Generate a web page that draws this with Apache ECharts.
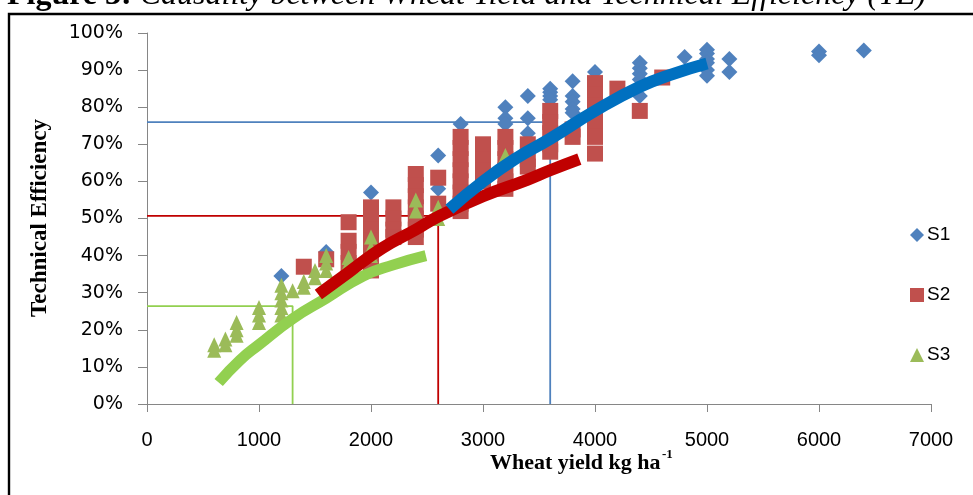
<!DOCTYPE html>
<html>
<head>
<meta charset="utf-8">
<script src="https://cdn.jsdelivr.net/npm/echarts@6/dist/echarts.min.js"></script>
<style>
html,body{margin:0;padding:0;background:#fff;}
#chart{width:973px;height:495px;}
</style>
</head>
<body>
<div id="chart"></div>
<script>
// ---- Data (x: wheat yield kg/ha, y: technical efficiency %) ----
const seriesNames = ['S1', 'S2', 'S3'];
const xTickValues = [0, 1000, 2000, 3000, 4000, 5000, 6000, 7000];
const yTickValues = [0, 10, 20, 30, 40, 50, 60, 70, 80, 90, 100];

const s1Points = [
  [1200, 34.5], [1600, 41], [2000, 57], [2600, 67], [2600, 58], [2800, 75.5],
  [3000, 67.5], [3000, 66], [3200, 80], [3200, 77], [3200, 75.5],
  [3400, 83], [3400, 77], [3400, 73],
  [3600, 85], [3600, 84], [3600, 83], [3600, 82], [3600, 76.5],
  [3800, 87], [3800, 83], [3800, 81.5], [3800, 79.5], [3800, 78.5],
  [4000, 89.5], [4000, 78], [4400, 92], [4400, 90.5], [4400, 89], [4400, 87.5], [4400, 83],
  [4800, 93.5], [5000, 95.5], [5000, 94.5], [5000, 93], [5000, 92], [5000, 90], [5000, 88.5],
  [5200, 93], [5200, 89.5], [6000, 95], [6000, 94], [6400, 95.3]
];
const s2Points = [
  [1400, 37], [1600, 39], [1800, 49], [1800, 44], [1800, 41], [1800, 38],
  [2000, 53], [2000, 50], [2000, 47], [2000, 44], [2000, 41], [2000, 38], [2000, 36],
  [2200, 53], [2200, 50], [2200, 47], [2200, 45],
  [2400, 62], [2400, 59], [2400, 56], [2400, 53], [2400, 50], [2400, 47], [2400, 45],
  [2600, 61], [2600, 54],
  [2800, 72], [2800, 69], [2800, 66], [2800, 63], [2800, 60], [2800, 57], [2800, 54], [2800, 52],
  [3000, 70], [3000, 66], [3000, 63], [3000, 60],
  [3200, 72], [3200, 69], [3200, 66], [3200, 63], [3200, 60], [3200, 58],
  [3400, 70], [3400, 66], [3400, 64],
  [3600, 79], [3600, 76], [3600, 73], [3600, 70], [3600, 68],
  [3800, 74], [3800, 72],
  [4000, 86.5], [4000, 83.5], [4000, 80.5], [4000, 77.5], [4000, 74.5], [4000, 72], [4000, 67.5],
  [4200, 85], [4400, 79], [4600, 88]
];
const s3Points = [
  [600, 16], [600, 14.5], [700, 17.5], [700, 16], [800, 22], [800, 20], [800, 18.5],
  [1000, 26], [1000, 24], [1000, 22],
  [1200, 32], [1200, 30], [1200, 28], [1200, 26], [1200, 24],
  [1300, 30.5], [1400, 33], [1400, 31.5], [1500, 36], [1500, 34],
  [1600, 40], [1600, 38], [1600, 36], [1800, 39.5], [1800, 38],
  [2000, 45], [2000, 42], [2000, 40], [2400, 55], [2400, 52], [2600, 53], [2600, 50], [3200, 67]
];

// Trend curves
const trendS1 = [[2700, 52.5], [3000, 60], [3300, 66.3], [3600, 71.5], [4000, 79], [4400, 85.5], [4700, 89], [5000, 91.8]];
const trendS2 = [[1530, 29.5], [1800, 35.5], [2100, 42], [2400, 47], [2600, 50.5], [3000, 56], [3400, 60.5], [3600, 63], [3860, 66]];
const trendS3 = [[640, 5.8], [830, 11.8], [1000, 16], [1300, 23], [1600, 28.5], [1930, 34.5], [2200, 37.5], [2490, 40]];

// Reference (read-off) lines: [yield, TE]
const refS1 = [[0, 76], [3600, 76], [3600, 0]];
const refS2 = [[0, 50.7], [2600, 50.7], [2600, 0]];
const refS3 = [[0, 26.4], [1300, 26.4], [1300, 0]];

const C1 = '#4F81BD', C2 = '#C0504D', C3 = '#9BBB59';

const chart = echarts.init(document.getElementById('chart'), null, {renderer: 'canvas'});

function refLine(name, data, color) {
  return {name: name, type: 'line', data: data, showSymbol: false, symbol: 'none',
    lineStyle: {color: color, width: 1.8}, z: 3, silent: true, animation: false};
}
function trend(name, data, color, w, z) {
  return {name: name, type: 'line', data: data, showSymbol: false, symbol: 'none', smooth: true,
    lineStyle: {color: color, width: w, cap: 'butt'}, z: z, silent: true, animation: false};
}

chart.setOption({
  animation: false,
  backgroundColor: '#ffffff',
  grid: {left: 147, right: 42, top: 33, bottom: 91, containLabel: false},
  xAxis: {
    type: 'value', min: xTickValues[0], max: xTickValues[xTickValues.length - 1], interval: 1000,
    splitLine: {show: false},
    axisLine: {onZero: false, lineStyle: {color: '#868686', width: 1}},
    axisTick: {show: true, inside: false, length: 8, lineStyle: {color: '#868686'}},
    axisLabel: {margin: 26, color: '#000', fontSize: 20, fontFamily: '"Liberation Sans", sans-serif',
      formatter: function (v) { return String(v); }}
  },
  yAxis: {
    type: 'value', min: yTickValues[0], max: yTickValues[yTickValues.length - 1], interval: 10,
    splitLine: {show: false},
    axisLine: {show: true, lineStyle: {color: '#868686', width: 1}},
    axisTick: {show: true, inside: false, length: 9, lineStyle: {color: '#868686'}},
    axisLabel: {margin: 24, color: '#000', fontSize: 19, fontFamily: '"DejaVu Sans", sans-serif',
      formatter: function (v) { return v + '%'; }}
  },
  legend: {
    data: seriesNames, orient: 'vertical', left: 905, top: 220, itemGap: 40,
    itemWidth: 14, itemHeight: 14,
    textStyle: {fontSize: 19, color: '#000', fontFamily: '"Liberation Sans", sans-serif', lineHeight: 20, padding: [0, 0, 0, -2]}
  },
  series: [
    refLine('ref1', refS1, '#4F81BD'),
    refLine('ref2', refS2, '#C00000'),
    refLine('ref3', refS3, '#92D050'),
    {name: 'S1', type: 'scatter', data: s1Points, symbol: 'diamond', symbolSize: [16, 16],
      itemStyle: {color: C1, opacity: 1}, z: 4},
    {name: 'S2', type: 'scatter', data: s2Points, symbol: 'rect', symbolSize: [16, 16],
      itemStyle: {color: C2, opacity: 1}, z: 5},
    {name: 'S3', type: 'scatter', data: s3Points, symbol: 'triangle', symbolSize: [14, 15],
      itemStyle: {color: C3, opacity: 1}, z: 6},
    trend('trend3', trendS3, '#92D050', 11, 7),
    trend('trend2', trendS2, '#C00000', 12, 8),
    trend('trend1', trendS1, '#0070C0', 12, 9)
  ],
  graphic: [
    {type: 'rect', shape: {x: 9, y: 14, width: 990, height: 520}, z: 100,
      style: {fill: 'none', stroke: '#000', lineWidth: 2.4}, silent: true},
    {type: 'text', x: 7, y: -4, z: 100, silent: true,
      style: {text: '{b|Figure 3:} {i|Causality between Wheat Yield and Technical Efficiency (TE)}',
        verticalAlign: 'middle', align: 'left',
        rich: {
          b: {fontFamily: '"Liberation Serif", serif', fontWeight: 'bold', fontSize: 32, fill: '#000'},
          i: {fontFamily: '"Liberation Serif", serif', fontStyle: 'italic', fontSize: 32, fill: '#000'}
        },
        font: '32px "Liberation Serif", serif', fill: '#000'}},
    {type: 'text', x: 40, y: 218, rotation: Math.PI / 2, z: 100, silent: true,
      style: {text: 'Technical Efficiency', align: 'center', verticalAlign: 'middle',
        font: 'bold 23px "Liberation Serif", serif', fill: '#000'}},
    {type: 'text', x: 490, y: 463, z: 100, silent: true,
      style: {text: 'Wheat yield kg ha', align: 'left', verticalAlign: 'middle',
        font: 'bold 22px "Liberation Serif", serif', fill: '#000'}},
    {type: 'text', x: 662, y: 455, z: 100, silent: true,
      style: {text: '-1', align: 'left', verticalAlign: 'middle',
        font: 'bold 13px "Liberation Serif", serif', fill: '#000'}}
  ]
});
</script>
</body>
</html>
